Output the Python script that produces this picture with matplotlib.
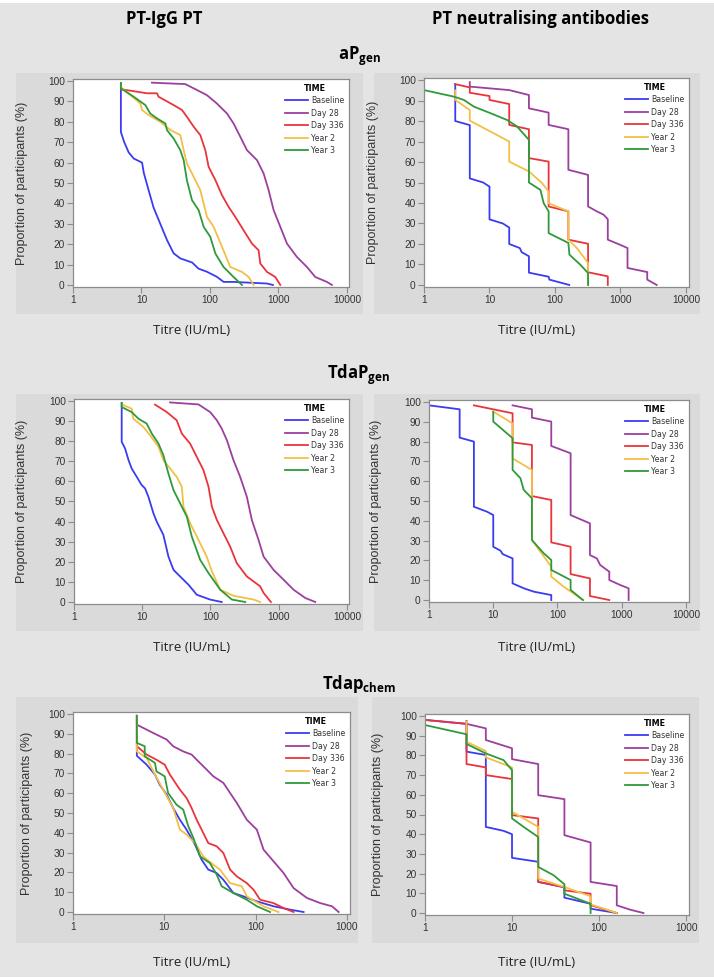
import matplotlib
matplotlib.use("Agg")
import matplotlib.pyplot as plt
from matplotlib.patches import Rectangle

# Séries (titre UI/mL, % de participants)
series = ["Baseline", "Day 28", "Day 336", "Year 2", "Year 3"]
couleurs = ["#3b3bf2", "#9c3f9f", "#e9343b", "#f3bf47", "#2f9a3a"]

# aPgen - PT-IgG
ap_igg = {
    "Baseline": ([5, 5, 5.6, 6.5, 7.7, 10.2, 10.8, 12.7, 15, 18.8, 23.6, 29.5, 37, 55, 68, 90, 126, 158, 221, 680, 830],
                 [99, 75, 70, 65, 62, 60, 55, 46.5, 38, 30, 22, 15.5, 13, 11, 8, 6.5, 4, 1.5, 1.5, 0.7, 0]),
    "Day 28": ([14.2, 43.6, 64.6, 90, 126, 177, 221, 277, 347, 486, 607, 718, 850, 1064, 1331, 1862, 2608, 3450, 5100, 6040],
               [99.2, 98.5, 95.6, 93.1, 89, 84.1, 79.2, 72.7, 66.1, 61.2, 54.7, 46.5, 36.7, 28.5, 20.3, 13.7, 8.8, 3.9, 1.5, 0]),
    "Day 336": ([5, 12, 16.8, 17.8, 29.5, 39, 46, 57.8, 72.2, 85.5, 95.6, 120, 150, 187, 234, 310, 410, 513, 543, 680, 900, 1064],
                [96, 94, 94, 92.3, 88.2, 85.8, 82.5, 77.6, 73.5, 66.1, 57.9, 51.4, 44, 38.3, 33.4, 26.8, 20.3, 17, 10.5, 6.4, 3.9, 0]),
    "Year 2": ([5, 5, 6.9, 9.6, 10.2, 12.7, 18.8, 26.4, 36.9, 41.3, 46, 54.6, 72.2, 90.4, 113, 150, 198, 293, 367, 434],
               [98, 97, 93.1, 89, 85.8, 83.3, 80, 76, 73.5, 66.1, 59.6, 54.7, 46.5, 33.4, 28.5, 18.7, 8.8, 6.4, 3.9, 0]),
    "Year 3": ([5, 5, 7.7, 11.4, 13.4, 16.8, 22.3, 23.6, 29.5, 36.9, 41.3, 46, 54.6, 68.3, 80.9, 101, 120, 158, 221, 293],
               [99, 96.4, 92.3, 88.2, 84.1, 81.7, 79.2, 75.9, 71.8, 66.1, 61.2, 51.4, 41.6, 36.7, 28.5, 23.6, 15.4, 8.8, 3.9, 0]),
}

# aPgen - anticorps neutralisants
ap_neut = {
    "Baseline": ([3, 3, 5, 5, 8, 10, 10, 16, 20, 20, 29, 31, 40, 40, 80, 82, 165],
                 [98, 80, 78, 52, 50, 48, 32, 30, 28, 20, 18, 16, 14, 6, 4, 2.6, 0]),
    "Day 28": ([5, 5, 20, 40, 40, 80, 80, 160, 160, 320, 320, 436, 551, 640, 640, 988, 1280, 1280, 2560, 2560, 3570],
               [99, 96.8, 95.1, 92.7, 86.2, 84.1, 78.1, 76, 56.2, 53.7, 38.3, 35.9, 34.3, 32.1, 22.1, 19.6, 18, 8.3, 6.3, 2.6, 0]),
    "Day 336": ([3, 5, 5, 10, 10, 20, 20, 40, 40, 80, 80, 160, 160, 320, 320, 640, 640],
                [98, 96.4, 93.8, 92.2, 90.3, 88.3, 78.1, 76, 61.9, 60.2, 38.3, 35.9, 22.1, 20.1, 6.2, 4.2, 0]),
    "Year 2": ([3, 3, 5, 5, 20, 20, 40, 63.5, 80, 80, 160, 160, 216, 320, 320],
               [95, 90.3, 85.4, 80.2, 70, 60.2, 55.4, 49.7, 45.6, 39.9, 35.9, 22.1, 18, 10.7, 0]),
    "Year 3": ([1, 2.86, 4.06, 5.8, 10.4, 18.6, 26.4, 40, 40, 59.8, 67.2, 80, 80, 160, 166, 243, 320, 320],
               [95.1, 91.9, 90.3, 87, 83.8, 80.5, 77.3, 70.8, 50, 46.4, 39.9, 35.9, 25.3, 20.5, 14.8, 9.9, 5.8, 0]),
}

# TdaPgen - PT-IgG
tdap_igg = {
    "Baseline": ([5, 5, 5.6, 6.3, 7, 8.3, 9.8, 11, 12.3, 14.6, 16.3, 20.4, 24.2, 28.7, 35.9, 47.6, 63, 99, 146],
                 [99, 79.7, 76.4, 70.6, 66.4, 62.3, 58.2, 56.5, 52.4, 44.1, 40, 33.4, 22.6, 16, 12.7, 8.6, 3.6, 1.2, 0]),
    "Day 28": ([25.6, 66.7, 99, 124, 146, 174, 217, 272, 341, 404, 506, 600, 839, 1176, 1651, 2449, 3430],
               [99.3, 98.3, 94.5, 90.4, 86.3, 80.5, 70.6, 62.3, 52.4, 40.8, 30.9, 22.6, 16, 11.1, 6.1, 2, 0]),
    "Day 336": ([15.4, 22.9, 32, 38, 50.3, 63, 78.9, 93.5, 105, 124, 155, 194, 243, 341, 535, 600, 768],
                [98.2, 94.5, 90.4, 83.8, 78.8, 72.2, 65.6, 57.4, 47.4, 40.8, 34.2, 27.6, 19.3, 12.7, 7.8, 4.5, 0]),
    "Year 2": ([5, 7, 7.4, 10.4, 13, 17.3, 20.4, 25.6, 32, 38, 40.2, 50.3, 63, 88, 105, 139, 217, 427, 535],
               [98.3, 96.2, 91.2, 87.1, 83, 77.2, 70.6, 66.4, 62.3, 57.4, 47.4, 39.2, 32.6, 22.6, 15.2, 6.1, 3.1, 1.2, 0]),
    "Year 3": ([5, 5, 7, 8.8, 11.6, 13.8, 17.3, 20.4, 24.2, 28.7, 35.9, 45, 53.2, 70.5, 93.5, 139, 206, 323],
               [99, 97, 94.5, 91.2, 88.8, 83.8, 78.8, 73, 63.9, 55.7, 49.1, 42.5, 32.6, 21, 14.4, 6.1, 1.2, 0]),
}

# TdaPgen - anticorps neutralisants
tdap_neut = {
    "Baseline": ([1, 3, 3, 5, 5, 8, 10, 10, 13, 14, 20, 20, 30, 43, 80, 80],
                 [98.3, 96.3, 82, 80, 47.1, 44.6, 42.9, 26.9, 24.9, 23.2, 21, 8.4, 5.9, 4.2, 2.5, 0]),
    "Day 28": ([20, 40, 40, 80, 80, 160, 160, 320, 320, 410, 462, 640, 640, 945, 1280, 1280],
               [98.3, 96.3, 92.1, 90.1, 77.8, 74.1, 42.9, 38.7, 22.7, 21, 17.7, 14.3, 10.1, 7.6, 5.9, 0]),
    "Day 336": ([5, 20, 20, 40, 40, 80, 80, 160, 160, 320, 320, 640],
                [98.3, 94.3, 79.6, 78.3, 52.5, 50.5, 29.1, 26.9, 13.1, 10.9, 2, 0]),
    "Year 2": ([10, 20, 20, 40, 40, 80, 80, 125, 249],
               [95.1, 89.2, 71.5, 65.7, 30.3, 16.8, 11.8, 6.7, 0]),
    "Year 3": ([10, 10, 20, 20, 26.5, 29.8, 40, 40, 61, 80, 80, 160, 160, 249],
               [95.1, 90.1, 81.7, 65.7, 61.5, 55.6, 51.4, 30.3, 23.6, 20.2, 15.2, 10.1, 5.1, 0]),
}

# Tdapchem - PT-IgG
chem_igg = {
    "Baseline": ([5, 5, 6.4, 7.9, 8.9, 10.6, 12.5, 14.8, 17.5, 21.7, 25.6, 30.3, 37.4, 44.3, 57, 73.5, 103, 157, 239, 335],
                 [99, 78.9, 74.4, 69.4, 64.3, 59.3, 52.5, 46.6, 41.6, 34, 26.4, 21.4, 19.7, 16.3, 9.6, 7.9, 5.4, 2.9, 1.2, 0]),
    "Day 28": ([5, 5, 6.4, 8.2, 10.6, 12.5, 16.1, 19.9, 22.6, 29.1, 34.4, 44.3, 52.5, 62.1, 80, 103, 122, 157, 202, 260, 364, 510, 685, 811],
               [99.2, 94.6, 92.1, 89.6, 87.1, 83.7, 81.1, 79.5, 76.9, 71.9, 68.5, 65.2, 60.1, 55.1, 46.6, 41.6, 31.5, 25.6, 19.7, 12.1, 7.1, 4.5, 2.9, 0]),
    "Day 336": ([5, 5, 6.4, 8.2, 10.1, 11.5, 14.8, 17.5, 19.9, 22.6, 25.6, 30.3, 37.4, 44.3, 52.5, 62.1, 80, 94.6, 112, 157, 202, 260],
                [99, 83.7, 79.5, 76.9, 74.4, 69.4, 61.8, 57.6, 52.5, 46.6, 41.6, 34.8, 33.2, 29.8, 21.4, 18, 14.6, 11.3, 6.2, 4.5, 2, 0]),
    "Year 2": ([5, 5, 6.4, 7.9, 9.7, 12.5, 14.8, 17.5, 21.7, 26.7, 34.4, 40.7, 52.5, 70.4, 80, 122, 178],
               [99, 81.1, 77.8, 69.4, 61.8, 52.5, 41.6, 39.1, 34.8, 28.1, 23.9, 21.4, 14.6, 13, 7.9, 2.9, 0]),
    "Year 3": ([5, 5, 6.1, 6.1, 7.9, 8.2, 10.1, 11, 13.6, 16.1, 18.3, 20.8, 24.6, 31.6, 37.4, 42.5, 57, 80, 103, 144],
               [99, 85.4, 83.7, 78.6, 75.3, 71, 68.5, 60.1, 54.2, 51.7, 43.3, 37.4, 28.1, 24.7, 18.9, 13, 9.6, 6.2, 2.9, 0]),
}

# Tdapchem - anticorps neutralisants
chem_neut = {
    "Baseline": ([1, 3, 3, 5, 5, 8, 10, 10, 20, 20, 40, 40, 80, 80, 160],
                 [98, 96, 81.9, 80.2, 43.7, 41.7, 40, 28, 26, 15.8, 13, 7.8, 4.7, 2.2, 0]),
    "Day 28": ([3, 3, 5, 5, 10, 10, 20, 20, 40, 40, 80, 80, 160, 160, 228, 324],
               [97.5, 96, 93.7, 87.8, 83.6, 78.1, 75.6, 59.8, 57.8, 39.5, 35.8, 15.8, 13.7, 3.9, 1.7, 0]),
    "Day 336": ([1, 3, 3, 5, 5, 10, 10, 20, 20, 40, 40, 80, 80, 160],
                [98, 96, 75.6, 73.9, 70, 68, 49.7, 48, 15.8, 13.2, 11.5, 9.8, 4, 0]),
    "Year 2": ([3, 3, 5, 5, 10, 10, 20, 20, 40, 80, 80, 160],
               [97.1, 86.9, 82.2, 79, 73.9, 51.4, 43.7, 17.5, 13.2, 8.5, 4.4, 0]),
    "Year 3": ([1, 3, 3, 5, 8, 10, 10, 13.6, 20, 20, 30, 40, 40, 80, 80],
               [95.4, 90.7, 85.8, 81, 77.6, 72.5, 48, 43.7, 38.6, 23.4, 19.2, 14.6, 9.8, 4.7, 0]),
}

x_ticks_4 = [1, 10, 100, 1000, 10000]
x_ticks_3 = [1, 10, 100, 1000]
y_ticks = list(range(0, 101, 10))

W, H = 714, 980
plt.rcParams["mathtext.fontset"] = "custom"
plt.rcParams["mathtext.bf"] = "Open Sans:bold"
plt.rcParams["mathtext.rm"] = "Open Sans"

fig = plt.figure(figsize=(W / 100, H / 100), dpi=100, facecolor="white")


def px_rect(l, t, r, b):
    return [l / W, 1 - b / H, (r - l) / W, (b - t) / H]


# fonds gris
fig.patches.append(Rectangle((0, 1 - 977 / H), 1, 974 / H, transform=fig.transFigure,
                             facecolor="#e4e4e4", edgecolor="none", zorder=-3))
volets = [(16, 73, 363, 314), (374, 73, 700, 314),
          (16, 394, 363, 631), (374, 394, 700, 631),
          (16, 697, 358, 943), (372, 697, 699, 943)]
for (l, t, r, b) in volets:
    fig.patches.append(Rectangle((l / W, 1 - b / H), (r - l) / W, (b - t) / H,
                                 transform=fig.transFigure, facecolor="#dadada",
                                 edgecolor="none", zorder=-2))

# (données, cadre en pixels, décades, position du label y en px)
panneaux = [
    (ap_igg, (73, 79, 349, 287), 4.03, x_ticks_4, 28),
    (ap_neut, (424, 78, 689, 287), 4.046, x_ticks_4, 379),
    (tdap_igg, (74, 399, 349, 604), 4.03, x_ticks_4, 28),
    (tdap_neut, (429, 400, 689, 602), 4.047, x_ticks_4, 382),
    (chem_igg, (73, 712, 350, 914), 3.033, x_ticks_3, 33),
    (chem_neut, (425, 714, 689, 915), 3.034, x_ticks_3, 384),
]

for data, (l, t, r, b), dec, xt, ylab_px in panneaux:
    ax = fig.add_axes(px_rect(l, t, r, b))
    for nom, c in zip(series, couleurs):
        xs, ys = data[nom]
        ax.plot(xs, ys, color=c, lw=1.3, label=nom)
    ax.set_xscale("log")
    ax.set_xlim(1, 10 ** dec)
    ax.set_ylim(-1, 101)
    ax.set_xticks(xt)
    ax.set_xticklabels([str(v) for v in xt])
    ax.minorticks_off()
    ax.set_yticks(y_ticks)
    for s in ax.spines.values():
        s.set_color("#8c8c8c")
        s.set_linewidth(0.9)
    ax.tick_params(direction="out", length=4, width=0.8, color="#8c8c8c",
                   labelsize=7.3, labelcolor="#333333", pad=2)
    for lab in ax.get_xticklabels() + ax.get_yticklabels():
        lab.set_family("Liberation Sans")
    ax.set_ylabel("Proportion of participants (%)", fontsize=9, color="#333333",
                  family="Liberation Sans")
    ax.yaxis.set_label_coords((ylab_px - l) / (r - l), 0.5)
    leg = ax.legend(loc="upper right", frameon=False, fontsize=5.6, title="TIME",
                    title_fontproperties={"weight": "bold", "size": 5.8},
                    handlelength=3.0, handletextpad=0.35, labelspacing=0.45,
                    borderaxespad=0.3, borderpad=0.3)
    for txt in leg.get_texts():
        txt.set_color("#333333")

# titres
fig.text(164 / W, 1 - 19 / H, "PT-IgG PT", ha="center", va="center",
         fontsize=12, fontweight="bold", family="Open Sans")
fig.text(541 / W, 1 - 19 / H, "PT neutralising antibodies", ha="center", va="center",
         fontsize=12, fontweight="bold", family="Open Sans")
fig.text(359 / W, 1 - 56 / H, r"$\mathbf{aP}_{\mathbf{gen}}$", ha="center", va="center", fontsize=12)
fig.text(359 / W, 1 - 375 / H, r"$\mathbf{TdaP}_{\mathbf{gen}}$", ha="center", va="center", fontsize=12)
fig.text(359 / W, 1 - 684 / H, r"$\mathbf{Tdap}_{\mathbf{chem}}$", ha="center", va="center", fontsize=12)

for y in (330, 647, 962):
    for x in (192, 537):
        fig.text(x / W, 1 - y / H, "Titre (IU/mL)", ha="center", va="center",
                 fontsize=9.5, family="Open Sans", color="#222222")

fig.savefig("out.png", dpi=100, facecolor=fig.get_facecolor())
